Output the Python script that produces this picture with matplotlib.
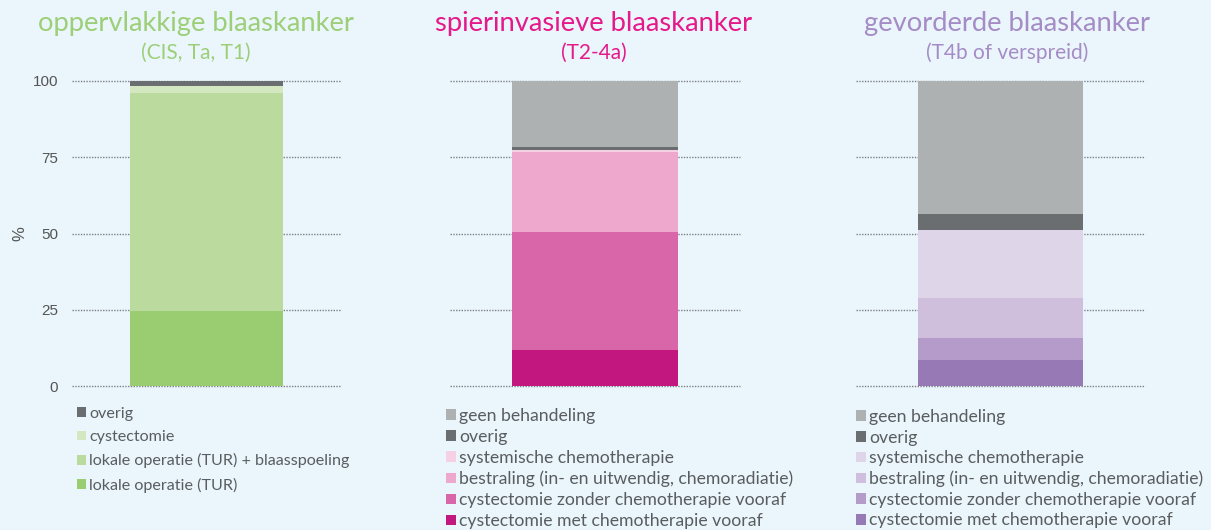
import numpy as np
import matplotlib.pyplot as plt

plt.rcParams['font.family'] = ['Lato', 'DejaVu Sans']

# --------------------------------------
# Data (percentages, bottom -> top)
# --------------------------------------
labels_1 = ["lokale operatie (TUR)", "lokale operatie (TUR) + blaasspoeling",
            "cystectomie", "overig"]
values_1 = [24.7, 71.3, 2.3, 1.7]

labels_23 = ["cystectomie met chemotherapie vooraf", "cystectomie zonder chemotherapie vooraf",
             "bestraling (in- en uitwendig, chemoradiatie)", "systemische chemotherapie",
             "overig", "geen behandeling"]
values_2 = [11.7, 38.9, 26.1, 0.6, 1.0, 21.7]
values_3 = [8.4, 7.5, 13.0, 22.2, 5.2, 43.7]

titles = ["oppervlakkige blaaskanker", "spierinvasieve blaaskanker", "gevorderde blaaskanker"]
subtitles = ["(CIS, Ta, T1)", "(T2-4a)", "(T4b of verspreid)"]
yticks = [0, 25, 50, 75, 100]

# --------------------------------------
# Style
# --------------------------------------
bg = "#eaf6fc"
grey_dark = "#6b6e70"
grey_light = "#aeb1b1"
title_colors = ["#9ccf78", "#e5198a", "#a58cc6"]
colors_1 = ["#9acd72", "#badb9d", "#d3e8c0", grey_dark]
colors_2 = ["#c1177f", "#d866a8", "#efa8cd", "#f6d0e4", grey_dark, grey_light]
colors_3 = ["#9679b5", "#b49bca", "#cfbfdd", "#dfd5e9", grey_dark, grey_light]

W, H = 1211, 530
fig = plt.figure(figsize=(W / 100, H / 100), dpi=100, facecolor=bg)

# axes placement in pixels: (left, right)
ax_px = [(72, 341), (450, 740), (856, 1145)]
y_top, y_bot = 81, 386
title_x = [196, 594, 1007]
# legend: x, y (px), labelspacing, fontsize
legend_pos = [(77, 407, 0.57, 11.6), (446, 408, 0.28, 12.7), (856, 409, 0.26, 12.7)]

panels = [(labels_1, values_1, colors_1), (labels_23, values_2, colors_2),
          (labels_23, values_3, colors_3)]

for i, (labels, values, colors) in enumerate(panels):
    l, r = ax_px[i]
    ax = fig.add_axes([l / W, 1 - y_bot / H, (r - l) / W, (y_bot - y_top) / H])
    ax.set_facecolor(bg)
    for s in ax.spines.values():
        s.set_visible(False)
    ax.set_xlim(-0.5, 0.5)
    ax.set_ylim(0, 100)
    ax.set_xticks([])
    ax.set_yticks(yticks)
    ax.tick_params(axis='y', length=0, pad=10, labelsize=11, labelcolor="#555555",
                   labelfontfamily="Liberation Sans")
    if i > 0:
        ax.set_yticklabels([])
    else:
        ax.set_ylabel("%", fontsize=12, color="#555555", family="Liberation Sans")
        ax.yaxis.set_label_coords((27 - l) / (r - l), 0.5)
    ax.set_axisbelow(True)
    ax.yaxis.grid(True, color="#7d8085", linestyle=(0, (1, 1)), linewidth=1)
    for gl in ax.get_ygridlines():
        gl.set_clip_on(False)

    handles = []
    bottom = 0
    for lab, v, c in zip(labels, values, colors):
        b = ax.bar(0, v, bottom=bottom, width=0.57, color=c, label=lab)
        handles.append(b)
        bottom += v

    lx, ly, sp, fs = legend_pos[i]
    leg = fig.legend(handles[::-1], labels[::-1], loc="upper left",
                     bbox_to_anchor=(lx / W, 1 - ly / H), frameon=False,
                     fontsize=fs, labelspacing=sp, handlelength=0.55, handleheight=0.55,
                     handletextpad=0.2, borderpad=0, borderaxespad=0)
    for t in leg.get_texts():
        t.set_color("#5a5d60")

    fig.text(title_x[i] / W, 1 - 23 / H, titles[i], ha="center", va="center",
             fontsize=19.7, color=title_colors[i])
    fig.text(title_x[i] / W, 1 - 53 / H, subtitles[i], ha="center", va="center",
             fontsize=15, color=title_colors[i])

fig.savefig("out.png", dpi=100, facecolor=bg)
